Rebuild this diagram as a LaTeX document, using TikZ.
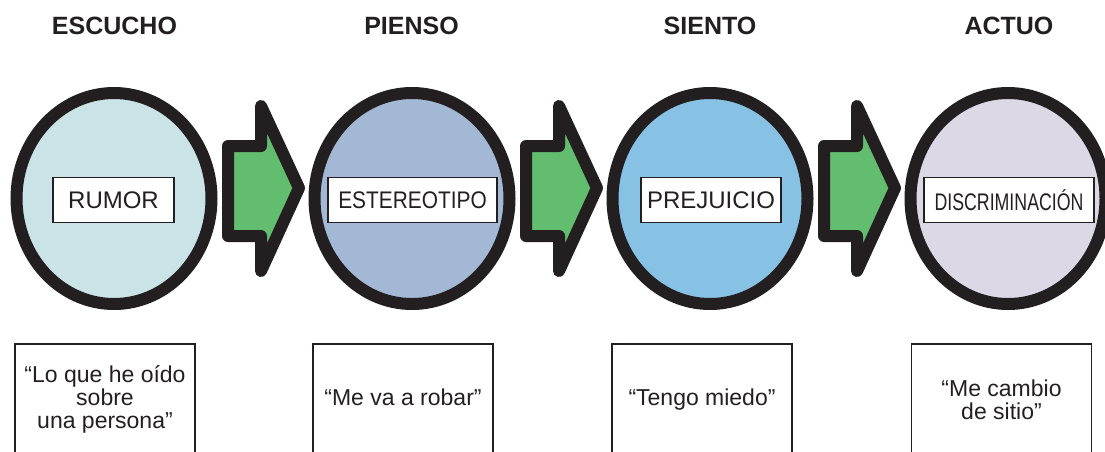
\documentclass[tikz,border=0pt]{standalone}
\usepackage{fontspec}
\setmainfont{Liberation Sans}
\usepackage{graphicx}
\usetikzlibrary{shapes.geometric}
\definecolor{ink}{HTML}{231F20}
\definecolor{fillA}{HTML}{CAE3E7}
\definecolor{fillB}{HTML}{A3B8D5}
\definecolor{fillC}{HTML}{87C2E5}
\definecolor{fillD}{HTML}{DCD8E6}
\definecolor{arrowgreen}{HTML}{63BD6E}
\begin{document}
\begin{tikzpicture}[x=1pt,y=-1pt,
  bubble/.style={ellipse, draw=ink, line width=12pt, minimum width=195pt, minimum height=211pt, inner sep=0pt},
  tag/.style={draw=ink, line width=1.8pt, fill=white, minimum height=45pt, inner sep=0pt, font=\fontsize{24}{24}\selectfont, text=ink},
  title/.style={font=\fontsize{25}{25}\selectfont\bfseries, text=ink, anchor=base},
  quotebox/.style={draw=ink, line width=1.5pt, minimum width=180pt, minimum height=130pt, anchor=north, inner sep=0pt},
  qtext/.style={font=\fontsize{23}{23}\selectfont, text=ink, align=center, inner sep=0pt},
  bigarrow/.style={draw=ink, fill=arrowgreen, line width=12pt, line join=round}
]
\useasboundingbox (0,0) rectangle (1105,451);
\clip (0,0) rectangle (1105,451);

% titles
\node[title] (h1) at (114.5,34.5) {ESCUCHO};
\node[title] (h2) at (411.5,34.5) {PIENSO};
\node[title] (h3) at (710,34.5) {SIENTO};
\node[title] (h4) at (1009,34.5) {ACTUO};

% circles
\node[bubble, fill=fillA] (c1) at (114,198.5) {};
\node[bubble, fill=fillB] (c2) at (412,198.5) {};
\node[bubble, fill=fillC] (c3) at (710,198.5) {};
\node[bubble, fill=fillD] (c4) at (1008,198.5) {};

% arrows
\foreach \dx in {0,298,596}{
  \draw[bigarrow, shift={(\dx,0)}] (228,146) -- (261,146) -- (261,106) -- (299,188)
    -- (261,271) -- (261,236) -- (228,236) -- cycle;
}

% labels
\node[tag, minimum width=121pt] (t1) at (113.5,200) {RUMOR};
\node[tag, minimum width=169pt] (t2) at (412.5,200) {\scalebox{0.87}[1]{ESTEREOTIPO}};
\node[tag, minimum width=140pt] (t3) at (711,200) {PREJUICIO};
\node[tag, minimum width=170pt] (t4) at (1009,200) {\scalebox{0.74}[1]{DISCRIMINACIÓN}};

% bottom boxes
\node[quotebox] (b1) at (105,343) {};
\node[quotebox] (b2) at (403,343) {};
\node[quotebox] (b3) at (702,343) {};
\node[quotebox] (b4) at (1001.5,343) {};

\node[qtext] (q1) at (105,399) {“Lo que he oído\\sobre\\una persona”};
\node[qtext, anchor=base] (q2) at (403,405) {“Me va a robar”};
\node[qtext, anchor=base] (q3) at (702,405) {“Tengo miedo”};
\node[qtext] (q4) at (1001.5,400) {“Me cambio\\de sitio”};
\end{tikzpicture}
\end{document}
